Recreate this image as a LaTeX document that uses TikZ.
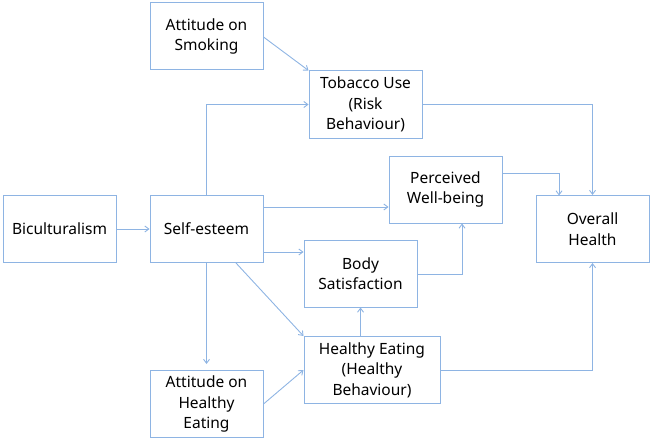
\documentclass[tikz,border=0pt]{standalone}
\usepackage{fontspec}
\setmainfont{Noto Sans}
\usetikzlibrary{arrows.meta}
\definecolor{lineblue}{HTML}{8EB4E3}
\begin{document}
\begin{tikzpicture}[x=1pt,y=-1pt,
    box/.style={draw=lineblue,line width=1pt,minimum width=113pt,minimum height=67pt,inner sep=0pt,align=center,font=\fontsize{15.5}{20.5}\selectfont},
    link/.style={draw=lineblue,line width=0.9pt,-{Straight Barb[length=4pt,width=6pt]}}]
    \useasboundingbox (0,0) rectangle (650,441);
    \node[box] (smoking) at (206.5,36.5) {Attitude on\\Smoking};
    \node[box] (tobacco) at (365.5,104.5) {Tobacco Use\\(Risk\\Behaviour)};
    \node[box] (wellbeing) at (445.5,189.5) {Perceived\\Well-being};
    \node[box] (bicult) at (59.5,229) {Biculturalism};
    \node[box] (esteem) at (206.5,229) {Self-esteem};
    \node[box] (health) at (592.5,229) {Overall\\Health};
    \node[box] (body) at (360.5,273.5) {Body\\Satisfaction};
    \node[box,minimum width=136pt] (eating) at (372,370) {Healthy Eating\\(Healthy\\Behaviour)};
    \node[box] (atteat) at (206.5,404) {Attitude on\\Healthy\\Eating};
    \coordinate (below) at (206.5,364);
    \draw[link] (smoking.east |- 0,37) -- (tobacco.north west);
    \draw[link] (esteem.north) |- (tobacco.west);
    \draw[link] (tobacco.east) -| (health.north);
    \draw[link] (wellbeing.east |- 0,173) -| (559,195.5);
    \draw[link] (bicult.east) -- (esteem.west);
    \draw[link] (esteem.east |- 0,207) -- (wellbeing.west |- 0,207);
    \draw[link] (esteem.east |- 0,252) -- (body.west |- 0,252);
    \draw[link] (body.east |- 0,274) -| (wellbeing.south -| 462,0);
    \draw[link] (esteem.south -| 236,0) -- (eating.north west);
    \draw[link] (esteem.south) -- (below);
    \draw[link] (atteat.east) -- (eating.west);
    \draw[link] (eating.north -| 360.5,0) -- (body.south);
    \draw[link] (eating.east) -| (health.south);
\end{tikzpicture}
\end{document}
